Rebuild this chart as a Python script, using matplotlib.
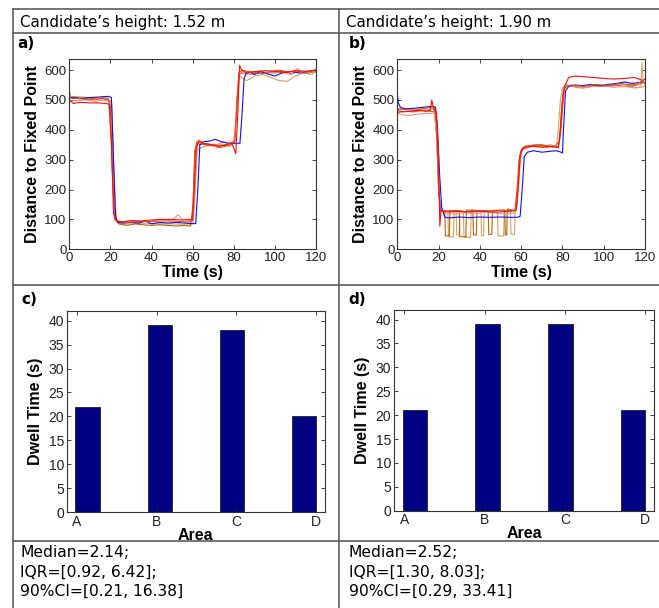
import matplotlib
matplotlib.use('Agg')
import matplotlib.pyplot as plt
from matplotlib.lines import Line2D
import numpy as np

# ---------------- data ----------------
header_left = "Candidate\u2019s height: 1.52 m"
header_right = "Candidate\u2019s height: 1.90 m"
stats_left = ["Median=2.14;", "IQR=[0.92, 6.42];", "90%CI=[0.21, 16.38]"]
stats_right = ["Median=2.52;", "IQR=[1.30, 8.03];", "90%CI=[0.29, 33.41]"]

areas = ["A", "B", "C", "D"]
dwell_c = [22, 39, 38, 20]
dwell_d = [21, 39, 39, 21]

# panel a traces (time s, distance)
blue_a_t = [0, 2, 5, 10, 15, 19, 20.5, 21.5, 22.5, 23.5, 26, 30, 34, 37, 40, 44, 48, 52, 56, 60, 61.5, 62.5, 63.5, 65, 68, 71, 74, 77, 80, 83, 84, 85, 86, 88, 90, 93, 96, 100, 104, 108, 112, 116, 120]
blue_a_v = [505, 508, 505, 508, 510, 512, 508, 300, 110, 90, 88, 90, 88, 95, 85, 90, 88, 90, 88, 86, 86, 200, 350, 360, 362, 368, 360, 355, 355, 355, 450, 570, 590, 592, 585, 595, 588, 580, 592, 595, 590, 595, 600]
red_a_t = [0, 2, 5, 10, 14, 18, 19.5, 20.5, 21.5, 23, 26, 30, 35, 40, 45, 50, 55, 58, 60, 60.8, 61.8, 63, 65, 68, 72, 76, 79, 80.5, 81, 82, 82.8, 84, 86, 90, 95, 100, 105, 110, 115, 120]
red_a_v = [500, 488, 492, 490, 490, 488, 485, 350, 120, 95, 92, 96, 95, 98, 100, 100, 98, 100, 98, 200, 340, 365, 355, 350, 345, 348, 355, 330, 320, 460, 615, 598, 592, 595, 598, 596, 592, 598, 596, 600]
ored_a_t = [0, 4, 8, 12, 16, 19, 20, 21, 22, 24, 28, 32, 36, 40, 44, 48, 52, 56, 59, 60, 61, 62, 64, 67, 70, 73, 76, 79, 80.5, 81.5, 82.5, 84, 87, 90, 94, 98, 102, 106, 110, 114, 118, 120]
ored_a_v = [505, 505, 502, 505, 508, 505, 480, 250, 100, 92, 90, 92, 94, 92, 95, 95, 94, 92, 92, 120, 300, 360, 355, 348, 352, 345, 350, 358, 362, 480, 590, 600, 595, 590, 588, 595, 600, 592, 598, 590, 598, 600]
brown_a_t = [0, 3, 8, 12, 16, 19, 20.5, 21.5, 22.5, 24, 28, 32, 36, 40, 44, 48, 52, 56, 59, 60.2, 61, 62, 64, 67, 70, 73, 76, 79, 80.5, 81.5, 82.5, 84, 88, 92, 96, 100, 104, 108, 112, 116, 120]
brown_a_v = [510, 508, 505, 500, 505, 500, 495, 300, 100, 85, 80, 85, 82, 80, 82, 80, 78, 80, 78, 150, 330, 355, 350, 355, 348, 340, 345, 350, 360, 500, 585, 590, 585, 595, 592, 590, 598, 588, 595, 590, 595]
tan_a_t = [0, 0.8, 2, 6, 10, 15, 19, 20.5, 22, 23.5, 25, 30, 35, 40, 45, 50, 55, 60, 61, 62, 64, 66, 70, 75, 78, 80, 81.5, 82.5, 84, 86, 88, 90, 94, 98, 102, 106, 110, 114, 118, 120]
tan_a_v = [535, 510, 512, 510, 508, 505, 500, 350, 120, 90, 85, 85, 88, 86, 85, 85, 84, 85, 150, 330, 340, 345, 350, 352, 345, 355, 450, 580, 575, 565, 570, 580, 585, 575, 565, 562, 580, 590, 585, 600]
salmon_a_t = [0, 3, 8, 13, 16, 19, 20.5, 21.5, 23, 26, 30, 35, 40, 45, 50, 53, 55, 57, 60, 61, 62.5, 64, 66, 69, 72, 75, 78, 80, 81.5, 83, 85, 88, 92, 96, 100, 104, 108, 111, 114, 117, 120]
salmon_a_v = [495, 498, 500, 495, 500, 495, 490, 250, 95, 92, 95, 92, 95, 100, 98, 115, 100, 98, 95, 200, 355, 360, 350, 345, 350, 360, 355, 360, 470, 595, 590, 585, 588, 592, 595, 590, 585, 605, 590, 595, 592]

# panel b traces
blue_b_t = [0, 0.5, 1.5, 4, 8, 12, 16, 18.5, 19.5, 20.5, 21.5, 23, 25, 30, 35, 40, 45, 50, 55, 58, 59.5, 60.5, 61.5, 63, 66, 70, 74, 77, 79, 80, 80.5, 81.5, 83, 86, 90, 94, 98, 102, 106, 110, 114, 118, 120]
blue_b_v = [520, 490, 475, 470, 472, 475, 478, 476, 400, 250, 140, 108, 105, 108, 106, 108, 107, 108, 107, 107, 110, 200, 310, 325, 330, 325, 328, 330, 326, 322, 400, 530, 545, 550, 548, 552, 548, 552, 555, 560, 555, 560, 558]
red_b_t = [0, 3, 6, 10, 14, 16, 16.7, 17.5, 19, 20, 20.6, 21.2, 22.5, 25, 30, 35, 40, 45, 50, 55, 57.5, 58.5, 59.5, 60.5, 62, 65, 70, 75, 78, 79, 80, 81, 83, 86, 90, 95, 100, 105, 110, 115, 119, 120]
red_b_v = [465, 460, 462, 465, 462, 465, 500, 470, 460, 300, 78, 130, 128, 125, 127, 125, 128, 125, 125, 128, 130, 200, 310, 335, 340, 345, 342, 345, 340, 400, 500, 545, 575, 580, 578, 575, 572, 570, 572, 575, 565, 570]
ored_b_t = [0, 4, 8, 12, 16, 18, 19, 20, 21, 23, 28, 33, 38, 43, 48, 53, 57, 58, 59, 60, 62, 66, 70, 74, 78, 79, 80, 81, 84, 90, 96, 102, 108, 114, 118, 120]
ored_b_v = [470, 468, 465, 470, 475, 478, 420, 200, 130, 128, 130, 125, 130, 128, 130, 128, 130, 200, 300, 330, 345, 348, 350, 345, 342, 380, 470, 540, 550, 545, 552, 548, 555, 550, 560, 558]
brown_b_t = [0, 4, 8, 12, 16, 18, 19.2, 20.2, 21.5,
             23.0, 23.3, 25.2, 25.5,
             30.0, 30.3, 33.2, 33.5,
             36.6, 36.9, 38.3, 38.6,
             44.0, 44.3, 45.8, 46.1,
             52.0, 52.3, 53.0, 53.3,
             56.5, 57.5, 58.5, 59.5, 60.5, 62, 65, 68, 72, 76, 78.5, 79.5, 80.5, 82, 86, 90, 95, 100, 105, 110, 115, 118, 120]
brown_b_v = [458, 462, 460, 465, 462, 460, 380, 180, 128,
             130, 45, 45, 130,
             128, 42, 42, 132,
             130, 48, 48, 130,
             128, 50, 50, 130,
             132, 48, 48, 135,
             130, 135, 220, 320, 338, 345, 348, 350, 345, 342, 360, 460, 535, 548, 545, 540, 548, 545, 550, 545, 548, 555, 560]
tan_b_t = [0, 4, 8, 12, 16, 17.5, 18.5, 19.5, 20.5, 21.5,
           24.5, 24.8, 27.2, 27.5,
           28.5, 28.8, 30.0, 30.3,
           32.0, 32.3, 35.5, 35.8,
           40.5, 40.8, 41.8, 42.1,
           48.5, 48.8, 51.5, 51.8,
           54.8, 55.1, 56.8, 57.1,
           58.0, 59.0, 60.0, 61, 63, 66, 70, 74, 77, 78, 79, 80, 82, 85, 88, 92, 96, 100, 104, 108, 112, 116, 118, 118.5, 119.2, 120]
tan_b_v = [470, 472, 468, 470, 468, 470, 455, 300, 140, 125,
           125, 42, 42, 128,
           130, 48, 48, 130,
           128, 40, 40, 132,
           128, 45, 45, 130,
           125, 45, 45, 130,
           128, 50, 50, 135,
           140, 250, 330, 340, 342, 348, 345, 350, 345, 400, 500, 540, 552, 545, 540, 550, 545, 548, 545, 552, 548, 540, 545, 625, 560, 550]
salmon_b_t = [0, 3, 6, 10, 14, 18, 19, 20, 21, 23, 28, 33, 38, 43, 48, 53, 57, 58.5, 60, 61, 63, 67, 71, 75, 78, 79.5, 80.5, 82, 85, 90, 95, 100, 105, 110, 115, 120]
salmon_b_v = [455, 450, 448, 452, 455, 455, 380, 200, 135, 120, 118, 122, 120, 125, 120, 118, 122, 200, 320, 335, 340, 345, 340, 342, 345, 420, 530, 548, 545, 540, 545, 548, 542, 545, 540, 545]

# ---------------- styling ----------------
C_BLUE = '#1010f0'
C_RED = '#f01010'
C_ORED = '#e0501a'
C_BROWN = '#b8620c'
C_TAN = '#d0a468'
C_SALMON = '#f2928a'

W, H = 659, 608
plt.rcParams['font.family'] = ['Liberation Sans', 'DejaVu Sans']
fig = plt.figure(figsize=(W / 100, H / 100), dpi=100)


def fx(px):
    return px / W


def fy(py):
    return 1 - py / H


def add_ax(l, t, r, b):
    return fig.add_axes([fx(l), fy(b), (r - l) / W, (b - t) / H])


def style(ax, lsize):
    ax.tick_params(direction='in', top=True, right=True, length=3, width=0.6,
                   labelsize=lsize, pad=2, colors='#222222')
    for s in ax.spines.values():
        s.set_linewidth(0.8)
        s.set_color('#333333')


def trace_panel(ax, traces):
    for t, v, c in traces:
        ax.plot(t, v, color=c, lw=0.8)
    ax.set_xlim(0, 120)
    ax.set_ylim(0, 637)
    ax.set_xticks(np.arange(0, 121, 20))
    ax.set_yticks(np.arange(0, 601, 100))
    style(ax, 9.5)
    ax.set_xlabel('Time (s)', fontsize=11.5, fontweight='bold', labelpad=1)
    ax.set_ylabel('Distance to Fixed Point', fontsize=11.5, fontweight='bold', labelpad=3)


def bar_panel(ax, vals):
    pos = np.arange(1, len(vals) + 1)
    ax.bar(pos, vals, width=0.34, color='#000080', edgecolor='#202020', lw=0.6)
    ax.set_xlim(0.71, 4.29)
    ax.set_ylim(0, 42)
    ax.set_xticks(np.linspace(0.85, 4.17, len(areas)))
    ax.set_xticklabels(areas)
    ax.set_yticks(np.arange(0, 41, 5))
    style(ax, 10)
    ax.set_xlabel('Area', fontsize=11.5, fontweight='bold', labelpad=-1)
    ax.set_ylabel('Dwell Time (s)', fontsize=11.5, fontweight='bold', labelpad=4)


ax_a = add_ax(69.3, 59, 316, 249.3)
trace_panel(ax_a, [(tan_a_t, tan_a_v, C_TAN), (brown_a_t, brown_a_v, C_BROWN),
                   (salmon_a_t, salmon_a_v, C_SALMON), (blue_a_t, blue_a_v, C_BLUE),
                   (ored_a_t, ored_a_v, C_ORED), (red_a_t, red_a_v, C_RED)])
ax_b = add_ax(397.3, 59, 645, 249.3)
trace_panel(ax_b, [(tan_b_t, tan_b_v, C_TAN), (brown_b_t, brown_b_v, C_BROWN),
                   (salmon_b_t, salmon_b_v, C_SALMON), (blue_b_t, blue_b_v, C_BLUE),
                   (ored_b_t, ored_b_v, C_ORED), (red_b_t, red_b_v, C_RED)])
ax_c = add_ax(66.7, 311, 325, 512.3)
bar_panel(ax_c, dwell_c)
ax_d = add_ax(394, 310, 654, 510.7)
bar_panel(ax_d, dwell_d)

# ---------------- table grid ----------------
LC = '#505050'
for y in (9, 33, 285, 541):
    fig.add_artist(Line2D([fx(12.5), 1], [fy(y), fy(y)], transform=fig.transFigure, color=LC, lw=1.1))
for x in (12.5, 338.5):
    fig.add_artist(Line2D([fx(x), fx(x)], [fy(9), 0], transform=fig.transFigure, color=LC, lw=1.1))

TF = ['DejaVu Sans']
fig.text(fx(20), fy(26.5), header_left, family=TF, fontsize=10.8, va='baseline')
fig.text(fx(346), fy(26.5), header_right, family=TF, fontsize=10.8, va='baseline')
for lab, x, y in (("a)", 17.5, 48.5), ("b)", 349, 48.5), ("c)", 21, 303.5), ("d)", 348, 303.5)):
    fig.text(fx(x), fy(y), lab, family=TF, fontsize=11, fontweight='bold', va='baseline')
for i, (sl, sr) in enumerate(zip(stats_left, stats_right)):
    yb = 557 + i * 19.5
    fig.text(fx(20), fy(yb), sl, family=TF, fontsize=11.2, va='baseline')
    fig.text(fx(349), fy(yb), sr, family=TF, fontsize=11.2, va='baseline')

fig.savefig('out.png', dpi=100)
